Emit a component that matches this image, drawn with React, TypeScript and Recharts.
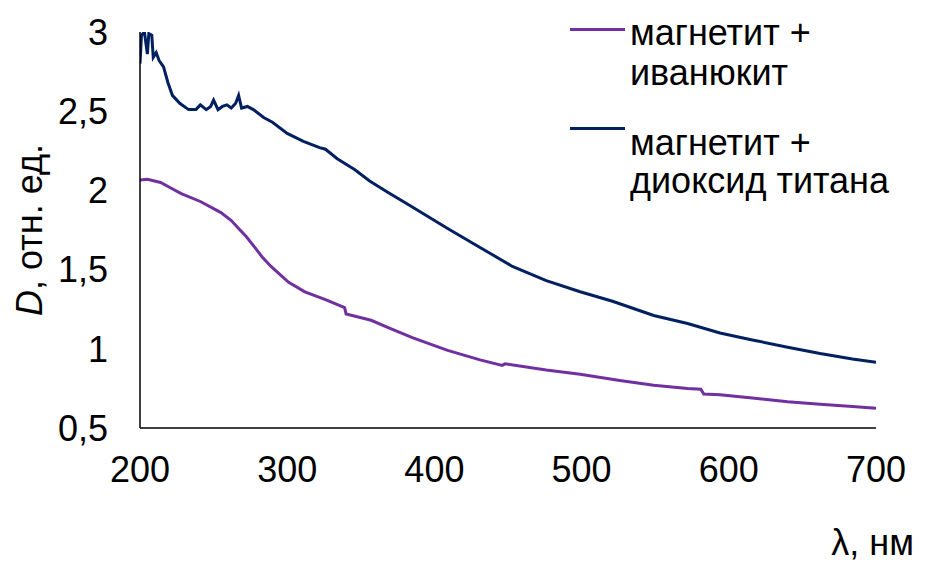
import React from 'react'
import { LineChart, Line, XAxis, YAxis, Legend, Label } from 'recharts'

// длина волны, нм / оптическая плотность D
const ivanWave = [200, 205, 214, 220, 228, 241, 255, 262, 267, 272, 278, 283, 289, 295, 301, 312, 326, 339, 340, 357, 367, 385, 409, 431, 446, 448, 476, 499, 526, 549, 572, 581, 583, 594, 616, 640, 662, 684, 700]
const ivanD = [2.066, 2.07, 2.05, 2.02, 1.98, 1.93, 1.86, 1.81, 1.76, 1.71, 1.64, 1.58, 1.52, 1.47, 1.42, 1.36, 1.31, 1.26, 1.22, 1.18, 1.14, 1.07, 0.99, 0.93, 0.895, 0.905, 0.866, 0.84, 0.8, 0.77, 0.75, 0.745, 0.715, 0.71, 0.69, 0.665, 0.65, 0.635, 0.625]

const tioWave = [200, 201, 203, 205, 206, 208, 209, 211, 213, 216, 219, 222, 227, 233, 238, 241, 245, 248, 250, 253, 256, 259, 262, 265, 267, 269, 273, 277, 284, 290, 300, 311, 322, 326, 334, 346, 356, 368, 385, 409, 431, 453, 476, 499, 521, 549, 572, 594, 616, 640, 662, 684, 700]
const tioD = [2.8, 2.98, 3.0, 2.86, 2.99, 2.98, 2.84, 2.87, 2.82, 2.78, 2.68, 2.6, 2.55, 2.51, 2.51, 2.54, 2.51, 2.53, 2.57, 2.51, 2.53, 2.54, 2.52, 2.55, 2.6, 2.52, 2.53, 2.51, 2.46, 2.43, 2.36, 2.31, 2.27, 2.26, 2.2, 2.13, 2.06, 1.99, 1.895, 1.76, 1.64, 1.52, 1.43, 1.36, 1.3, 1.21, 1.16, 1.1, 1.056, 1.01, 0.97, 0.935, 0.915]

const xTicks = [200, 300, 400, 500, 600, 700]
const yTicks = [0.5, 1, 1.5, 2, 2.5, 3]

const ivanName = ['магнетит +', 'иванюкит']
const tioName = ['магнетит +', 'диоксид титана']

const ivanData = ivanWave.map((w, i) => ({ wave: w, d: ivanD[i] }))
const tioData = tioWave.map((w, i) => ({ wave: w, d: tioD[i] }))

const FONT = '"Liberation Sans", Arial, sans-serif'
const PURPLE = '#7030A0'
const NAVY = '#002060'

function ChartLegend() {
  const text: React.CSSProperties = {
    position: 'absolute',
    left: 70,
    fontFamily: FONT,
    fontSize: 36,
    color: '#000',
    whiteSpace: 'pre',
  }
  const mark: React.CSSProperties = { position: 'absolute', left: 10, width: 55, height: 3 }
  return (
    <div style={{ position: 'relative', width: 365, height: 210 }}>
      <div style={{ ...mark, top: 28, background: PURPLE }} />
      <div style={{ ...text, top: 12.5, lineHeight: '40px' }}>{ivanName.join('\n')}</div>
      <div style={{ ...mark, top: 127, background: NAVY }} />
      <div style={{ ...text, top: 123.5, lineHeight: '38px' }}>{tioName.join('\n')}</div>
    </div>
  )
}

export default function App() {
  return (
    <div style={{ position: 'absolute', left: 0, top: 0, background: '#fff' }}>
      <LineChart width={925} height={565} margin={{ top: 32, right: 49, bottom: 0, left: 0 }}>
        <XAxis
          type="number"
          dataKey="wave"
          domain={[200, 700]}
          ticks={xTicks}
          height={137}
          tickSize={0}
          tickMargin={28}
          axisLine={{ stroke: '#000', strokeWidth: 1.5 }}
          tick={{ fill: '#000', fontSize: 36, fontFamily: FONT }}
          allowDataOverflow
        >
          <Label
            content={() => (
              <text x={914} y={555} textAnchor="end" fontSize={36} fontFamily={FONT} fill="#000">
                λ, нм
              </text>
            )}
          />
        </XAxis>
        <YAxis
          type="number"
          domain={[0.5, 3]}
          ticks={yTicks}
          width={140}
          tickSize={0}
          tickMargin={32}
          axisLine={{ stroke: '#000', strokeWidth: 1.5 }}
          tickFormatter={(v: number) => String(v).replace('.', ',')}
          tick={{ fill: '#000', fontSize: 36, fontFamily: FONT }}
          allowDataOverflow
        >
          <Label
            content={() => (
              <text
                x={42}
                y={230}
                transform="rotate(-90 42 230)"
                textAnchor="middle"
                fontSize={36}
                fontFamily={FONT}
                fill="#000"
              >
                <tspan fontStyle="italic">D</tspan>, отн. ед.
              </text>
            )}
          />
        </YAxis>
        <Legend
          layout="vertical"
          align="center"
          verticalAlign="middle"
          wrapperStyle={{ position: 'absolute', left: 560, top: 0, width: 365 }}
          content={() => <ChartLegend />}
        />
        <Line
          data={ivanData}
          dataKey="d"
          name={ivanName.join(' ')}
          type="linear"
          stroke={PURPLE}
          strokeWidth={3}
          dot={false}
          isAnimationActive={false}
        />
        <Line
          data={tioData}
          dataKey="d"
          name={tioName.join(' ')}
          type="linear"
          stroke={NAVY}
          strokeWidth={3}
          dot={false}
          isAnimationActive={false}
        />
      </LineChart>
    </div>
  )
}
